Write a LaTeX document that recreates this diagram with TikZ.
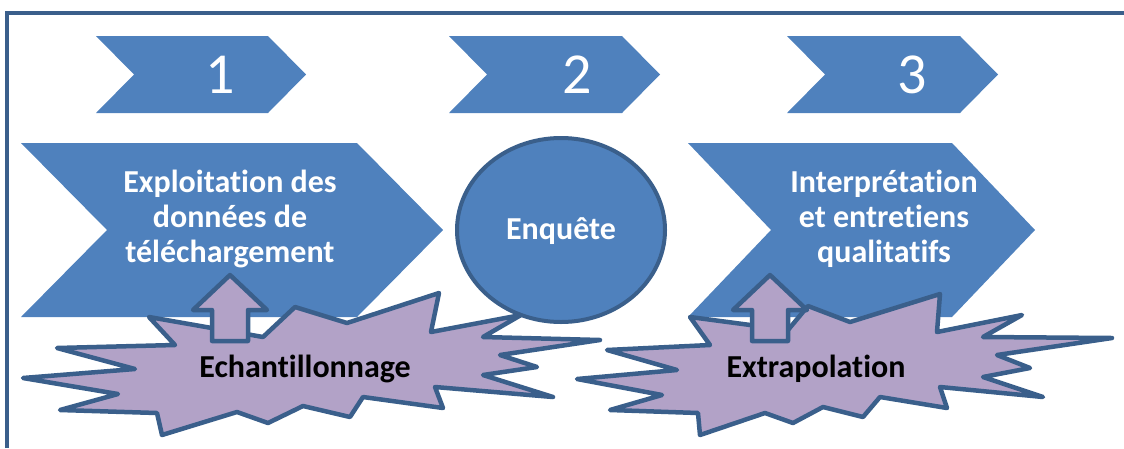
\documentclass[tikz,border=0pt]{standalone}
\usepackage{fontspec}
\setmainfont{Carlito}[Ligatures=NoCommon]
\usepackage{tikz}
\definecolor{bleu}{HTML}{4F81BD}
\definecolor{bleufonce}{HTML}{3A5F8B}
\definecolor{mauve}{HTML}{B2A2C7}
\newcommand\chevron[5]{(#1,#2) -- ++(#3,0) -- ++(#5,#4/2) -- ++(-#5,#4/2) -- ++(-#3,0) -- ++(#5,-#4/2) -- cycle}
\newcommand\flechehaut[1]{(#1,275) -- (#1+37,310) -- (#1+18,310) -- (#1+18,341) -- (#1-18,341) -- (#1-18,310) -- (#1-37,310) -- cycle}

\begin{document}
\begin{tikzpicture}[x=1pt, y=-1pt,
        bloc/.style={fill=bleu},
        bord/.style={draw=bleufonce, line width=4.5pt, line join=round},
        etoile/.style={bord, fill=mauve},
        titre/.style={text=white, font=\bfseries\fontsize{32}{35}\selectfont, align=center},
        chiffre/.style={text=white, font=\fontsize{58}{60}\selectfont},
        legende/.style={text=black, font=\bfseries\fontsize{32}{34}\selectfont}]
                \useasboundingbox (0,0) rectangle (1124,448);

                % Cadre
                \draw[bleufonce, line width=4.5pt] (7,448) -- (7,13) -- (1124,13);

                % Etapes
                \fill[bloc] \chevron{96}{36}{172}{77}{38};
                \fill[bloc] \chevron{449}{36}{173}{77}{38};
                \fill[bloc] \chevron{787}{36}{173}{77}{38};
                \node[chiffre] (un) at (220,75) {1};
                \node[chiffre] (deux) at (577,75) {2};
                \node[chiffre] (trois) at (912,75) {3};

                % Blocs principaux
                \fill[bloc] \chevron{21}{143}{336}{174}{86};
                \fill[bloc] \chevron{688}{143}{264}{174}{83};
                \draw[bord, line width=4pt, fill=bleu] (561,230) ellipse (104 and 92);

                % Explosions
                \draw[etoile]
                    (149,317) -- (263,337) -- (295,307) -- (347,323) --
                    (439,293) -- (431,332) -- (521,315) -- (483,337) --
                    (600,340) -- (500,355) -- (537,367) -- (483,375) --
                    (553,397) -- (435,387) -- (443,408) -- (363,397) --
                    (350,417) -- (303,406) -- (268,423) -- (237,412) --
                    (162,435) -- (157,413) -- (60,410) -- (118,394) --
                    (23,378) -- (135,369) -- (57,348) -- (175,345) -- cycle;
                \draw[etoile]
                    (690,317) -- (788,330) -- (808,306) -- (850,322) --
                    (940,294) -- (937,332) -- (1022,315) -- (983,337) --
                    (1112,338) -- (997,355) -- (1030,368) -- (983,377) --
                    (1043,397) -- (940,387) -- (947,408) -- (880,397) --
                    (863,417) -- (823,407) -- (793,423) -- (765,413) --
                    (700,435) -- (698,413) -- (610,410) -- (662,395) --
                    (577,379) -- (677,370) -- (607,350) -- (710,345) -- cycle;

                % Fleches
                \draw[etoile] \flechehaut{230};
                \draw[etoile] \flechehaut{770};

                % Textes
                \node[titre] (exploitation) at (230,219) {Exploitation des\\données de\\téléchargement};
                \node[titre] (enquete) at (561,231) {Enquête};
                \node[titre] (interpretation) at (884,219) {Interprétation\\et entretiens\\qualitatifs};
                \node[legende] (echantillonnage) at (305,369) {Echantillonnage};
                \node[legende] (extrapolation) at (816,369) {Extrapolation};
\end{tikzpicture}
\end{document}
